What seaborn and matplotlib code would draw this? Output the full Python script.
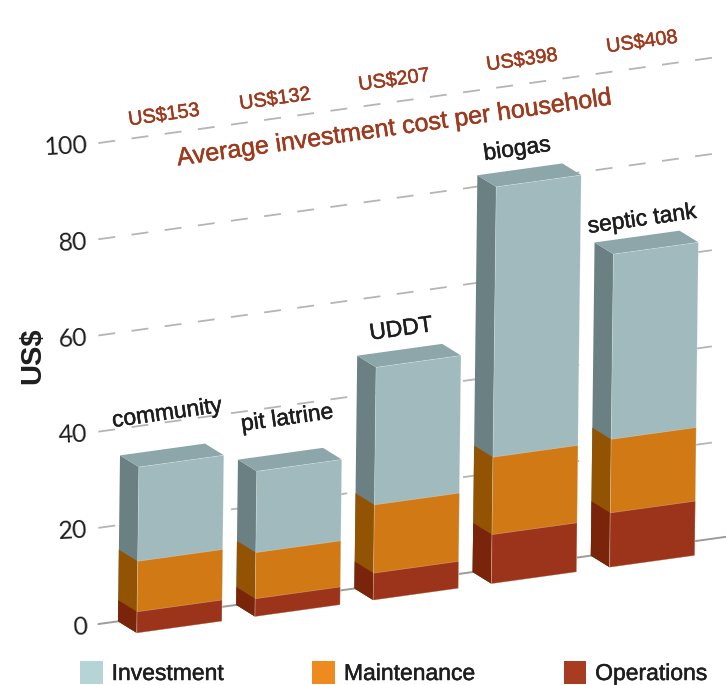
from matplotlib import pyplot as plt
from matplotlib import patheffects
from matplotlib.transforms import Affine2D
from matplotlib.patches import Patch
import numpy as np
import seaborn as sns

categories = ["community", "pit latrine", "UDDT", "biogas", "septic tank"]
operations = np.array([4.4, 3.7, 5.6, 10.2, 11.3])
maintenance = np.array([10.5, 9.6, 14.2, 16.1, 15.3])
investment = np.array([19.6, 16.9, 28.6, 56.2, 38.5])
cost_labels = ["US$153", "US$132", "US$207", "US$398", "US$408"]
y_ticks = [0, 20, 40, 60, 80, 100]
legend_labels = ["Investment", "Maintenance", "Operations"]

# layout, in pixels of the 726x685 picture
W, H = 726, 685
X_LEFT, Y_ZERO = 96, 624.4
CAT_PX, VAL_PX = 118.2, 4.81
FIRST_CENTER = 179.5
SLOPE = 0.139
LEAN = 0.012
cost_xy = [(164, 115), (275, 99), (394, 80), (522, 60), (642, 42)]
name_xy = [(167, 413), (287, 418), (401, 329), (517, 149), (642, 219)]

C_RED, C_ORANGE, C_BLUE = "#9c341b", "#d07915", "#a0babe"
SIDES = ["#6b8082", "#925302", "#7a240b"]
TOP = "#8da6aa"
TEXT_RED = "#9e3a1e"
TEXT_DARK = "#1e1e1e"

sns.set_style("white")
plt.rcParams["font.family"] = ["Liberation Sans", "DejaVu Sans"]

fig = plt.figure(figsize=(W / 100, H / 100), dpi=100)
ax = fig.add_axes([X_LEFT / W, 0, 1 - X_LEFT / W, 1])
ax.patch.set_alpha(0)

x_min = (X_LEFT - FIRST_CENTER) / CAT_PX
x_max = (W - FIRST_CENTER) / CAT_PX
y_min = -(H - Y_ZERO) / VAL_PX
y_max = Y_ZERO / VAL_PX

# the picture leans: values drift up to the right, bars tilt a little
ky = SLOPE * CAT_PX / VAL_PX
kx = LEAN * VAL_PX / CAT_PX
shear = Affine2D(np.array([[1, kx, 0], [ky, 1, -ky * x_min], [0, 0, 1]]))
grid_shear = Affine2D(np.array([[1, 0, 0], [ky, 1, -ky * x_min], [0, 0, 1]]))

DEPTH_X, DEPTH_Y = 19 / CAT_PX, 2.97
BAR_W = 85 / CAT_PX

# gridlines sit on the back wall
for tick in y_ticks:
    if tick == 0:
        ax.plot([x_min + 0.02, x_max], [tick, tick], color="#9c9c9c", lw=1.4,
                transform=grid_shear + ax.transData, zorder=1)
    else:
        ax.plot([x_min + 0.02, x_max], [tick, tick], color="#b5b5b5", lw=1.3,
                dashes=(12.2 / 1.3, 11.9 / 1.3),
                transform=grid_shear + ax.transData, zorder=1)

# stacked by overdrawing: full height first
levels = [
    (operations + maintenance + investment, C_BLUE, SIDES[0]),
    (operations + maintenance, C_ORANGE, SIDES[1]),
    (operations, C_RED, SIDES[2]),
]
front = Affine2D().translate(0, -DEPTH_Y) + shear + ax.transData
back = shear + ax.transData

for level_i, (values, color, side) in enumerate(levels):
    n_before = len(ax.patches)
    sns.barplot(x=categories, y=values, color=color, saturation=1,
                width=BAR_W, linewidth=0.5, edgecolor=(1, 1, 1, 0.3), ax=ax,
                zorder=3)
    for bar in ax.patches[n_before:]:
        bar.set_transform(front)
        bar.set_zorder(3 + level_i * 0.1)

        x0, v = bar.get_x(), bar.get_height()
        ax.fill([x0, x0, x0 - DEPTH_X, x0 - DEPTH_X],
                [-DEPTH_Y, v - DEPTH_Y, v, 0],
                color=side, lw=0, transform=back, zorder=2.5 + level_i * 0.1)
        if level_i == 0:
            x1 = x0 + bar.get_width()
            ax.fill([x0, x1, x1 - DEPTH_X, x0 - DEPTH_X],
                    [v - DEPTH_Y, v - DEPTH_Y, v, v],
                    color=TOP, lw=0, transform=back, zorder=2.5)

ax.set_xlim(x_min, x_max)
ax.set_ylim(y_min, y_max)
ax.set_xticks([])
ax.set_xlabel("")
ax.set_yticks(y_ticks)
ax.tick_params(axis="y", length=0, pad=6, labelsize=18, labelcolor=TEXT_DARK,
               labelrotation=3)

# a hair of stroke, the original type is a little heavier
heavier = [patheffects.withStroke(linewidth=0.35, foreground=TEXT_DARK)]
heavier_red = [patheffects.withStroke(linewidth=0.35, foreground=TEXT_RED)]

for label in ax.get_yticklabels():
    label.set_family("Lato")
    label.set_rotation_mode("anchor")
ax.set_ylabel("US$", fontsize=21, fontweight="bold", color=TEXT_DARK)
ax.yaxis.set_label_coords((46 - X_LEFT) / (W - X_LEFT), 1 - 356 / H)
sns.despine(ax=ax, left=True, bottom=True)


def px_text(x, y, s, **kw):
    return ax.text(x / W, 1 - y / H, s, transform=fig.transFigure, ha="center",
                   va="center", rotation_mode="anchor", rotation=8, zorder=6,
                   **kw)


for (x, y), s in zip(cost_xy, cost_labels):
    px_text(x, y, s, color=TEXT_RED, fontsize=14.3, path_effects=heavier_red)
for (x, y), s in zip(name_xy, categories):
    px_text(x, y, s, color=TEXT_DARK, fontsize=16.5, path_effects=heavier)
px_text(394, 128, "Average investment cost per household", color=TEXT_RED,
        fontsize=18, path_effects=heavier_red)

handles = [Patch(color=c, lw=0) for c in ["#b5d4d6", "#ef8a1e", "#a83c20"]]
legend = ax.legend(handles, legend_labels, ncol=3, frameon=False, fontsize=16.5,
                   loc="lower left", bbox_to_anchor=(80 / W, 0),
                   bbox_transform=fig.transFigure, borderpad=0, borderaxespad=0,
                   handlelength=1, handleheight=1.15, handletextpad=0.38,
                   columnspacing=3.86, labelcolor=TEXT_DARK)
for text in legend.get_texts():
    text.set_path_effects(heavier)

fig.savefig("out.png", dpi=100)
